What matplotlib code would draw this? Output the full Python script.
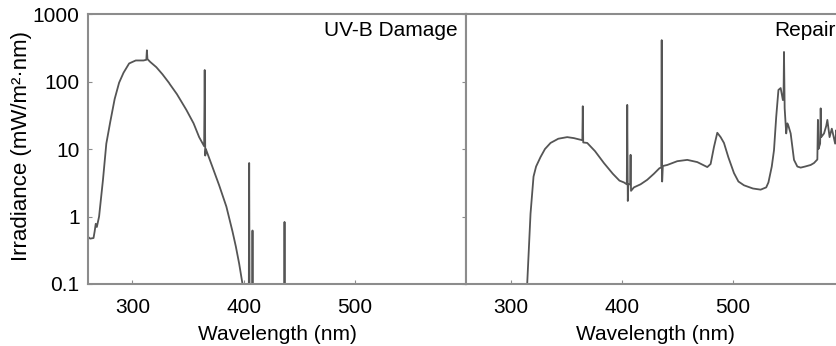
import matplotlib
matplotlib.use("Agg")
import matplotlib.pyplot as plt

# UV-B damage spectrum (left panel)
wl_damage = [260, 262, 265, 266, 267, 268, 270, 273.5, 276.5, 280, 284, 288, 292, 297, 300,
             303, 307, 310, 312.5, 313, 313.5, 316, 321.5, 327, 333, 333.5, 340, 348.5, 355,
             360, 364.5, 365, 365.5, 366, 372, 378, 384.5, 390, 393, 396, 399, 402,
             404.6, 405.0, 405.4, 407.6, 408.0, 408.4, 436.4, 436.8, 437.2, 450]
irr_damage = [0.50, 0.47, 0.48, 0.60, 0.78, 0.70, 1.0, 3.5, 12, 25, 55, 96, 135, 185, 195,
              205, 205, 205, 210, 290, 215, 195, 163, 128, 95, 92, 65, 38, 24,
              15, 11, 148, 8, 10, 5.4, 2.9, 1.4, 0.6, 0.36, 0.2, 0.1, 0.04,
              0.03, 6.2, 0.03, 0.03, 0.62, 0.03, 0.03, 0.83, 0.03, 0.03]

# repair spectrum (right panel)
wl_repair = [300, 314, 315, 318, 320.7, 323, 327, 331, 336, 343, 351, 357, 363, 364.6, 365,
             365.4, 369, 376, 384, 392, 398, 402, 404.6, 405, 405.5, 406, 407.6, 408, 408.4,
             411, 417, 423, 429, 434, 435.6, 436, 436.4, 437, 441, 450, 459, 468, 477, 480,
             483, 486, 489, 492, 496, 501, 505, 510, 518, 525, 530, 532, 535, 537, 539, 541,
             543, 545, 545.6, 546, 546.6, 548, 549, 550, 552, 555, 558, 561, 565, 570, 573,
             576, 576.5, 577, 578.5, 579, 579.5, 582, 584, 585, 587, 589, 590, 592, 593, 596, 600]
irr_repair = [0.01, 0.05, 0.1, 1.1, 3.9, 5.5, 7.6, 10, 12.3, 14.2, 15, 14.5, 13.7, 13.5, 43,
              12.5, 12.3, 9.3, 6.2, 4.3, 3.4, 3.2, 3.0, 45, 1.7, 3.0, 3.0, 8.2, 2.4,
              2.7, 3.0, 3.5, 4.3, 5.2, 5.3, 410, 3.3, 5.6, 5.8, 6.6, 6.9, 6.4, 5.4, 6.0,
              10.7, 17.4, 15, 12.3, 7.5, 4.4, 3.3, 2.9, 2.6, 2.5, 2.7, 3.2, 5.5, 9.6, 30, 75,
              80, 53, 60, 274, 40, 17, 24, 22, 17, 6.9, 5.5, 5.3, 5.5, 5.8, 6.2,
              7, 27, 10, 12, 40, 15, 17, 22, 27, 15, 20, 17, 12, 19, 12, 9]

x_ticks = [300, 400, 500]
y_ticks = [0.1, 1, 10, 100, 1000]
y_tick_labels = ["0.1", "1", "10", "100", "1000"]

LINE = "#555555"
SPINE = "#8c8c8c"

plt.rcParams['font.family'] = ['Liberation Sans', 'DejaVu Sans']


def style_axes(ax, y_labels):
    """ Common look for both panels. """
    ax.set_yscale('log')
    ax.set_xlim(260, 600)
    ax.set_ylim(0.1, 1000)
    ax.set_xticks(x_ticks)
    ax.set_yticks(y_ticks)
    ax.minorticks_off()
    if y_labels:
        ax.set_yticklabels(y_tick_labels)
        ax.tick_params(axis='y', direction='in', length=3, pad=6, color=SPINE, labelsize=15)
    else:
        ax.set_yticklabels([])
        ax.tick_params(axis='y', direction='out', length=3, color=SPINE)
    ax.tick_params(axis='x', direction='in', length=3, pad=10, color=SPINE, labelsize=15)
    for s in ax.spines.values():
        s.set_color(SPINE)
        s.set_linewidth(1.5)
    ax.set_xlabel("Wavelength (nm)", fontsize=15, labelpad=6)


fig = plt.figure(figsize=(8.37, 3.46), dpi=100)
ax1 = fig.add_axes([0.1051, 0.1792, 0.4516, 0.7803])
ax2 = fig.add_axes([0.5568, 0.1792, 0.4516, 0.7803])

ax1.plot(wl_damage, irr_damage, color=LINE, lw=1.3)
style_axes(ax1, True)
ax1.set_ylabel("Irradiance (mW/m²·nm)", fontsize=16)
ax1.yaxis.set_label_coords(-0.148, 0.51)
ax1.text(0.979, 0.975, "UV-B Damage", transform=ax1.transAxes, ha='right', va='top', fontsize=15)

ax2.plot(wl_repair, irr_repair, color=LINE, lw=1.3)
style_axes(ax2, False)
ax2.text(0.815, 0.975, "Repair", transform=ax2.transAxes, ha='left', va='top', fontsize=15)

fig.savefig("out.png", dpi=100)
